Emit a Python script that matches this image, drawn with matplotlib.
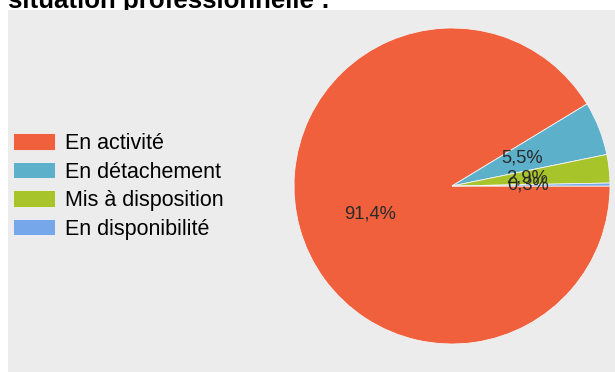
import numpy as np
import matplotlib
matplotlib.use("Agg")
import matplotlib.pyplot as plt
from matplotlib.patches import Rectangle

plt.rcParams['font.family'] = ['Liberation Sans', 'DejaVu Sans']

# Situation professionnelle des agents
categories = ["En activité", "En détachement", "Mis à disposition", "En disponibilité"]
values = [91.4, 5.5, 2.9, 0.3]
colors = ["#f1603c", "#5db0ca", "#a7c52b", "#76a7ea"]

W, H = 615, 372
fig = plt.figure(figsize=(W / 100, H / 100), dpi=100)
fig.patch.set_facecolor("white")

# title (partly cut by the top of the figure and by the panel)
fig.text(8 / W, 1 - 8 / H, "situation professionnelle :", fontsize=18.6,
         fontweight="bold", color="black", ha="left", va="baseline", zorder=-2)

# grey chart panel
fig.patches.append(Rectangle((8 / W, 0), 1 - 8 / W, (H - 10) / H,
                             transform=fig.transFigure, facecolor="#ececec",
                             edgecolor="none", zorder=-1))

# pie axes: centre (452, 186), radius 158 px
cx, cy, r = 452, 186, 158
ax = fig.add_axes([(cx - r) / W, (H - cy - r) / H, 2 * r / W, 2 * r / H])
ax.set_facecolor("none")
wedges, _ = ax.pie(values, colors=colors, startangle=0, counterclock=False,
                   radius=1, wedgeprops=dict(edgecolor="#f4f4f4", linewidth=0.6))
ax.set_xlim(-1, 1)
ax.set_ylim(-1, 1)
ax.set_aspect("equal")
ax.axis("off")

# percentage labels
for w, v in zip(wedges, values):
    mid = np.deg2rad((w.theta1 + w.theta2) / 2)
    if v > 50:
        x, y = 0.54 * np.cos(mid), 0.54 * np.sin(mid) - 0.032
    else:
        x, y = 0.48 * np.cos(mid), 0.48 * np.sin(mid)
    ax.text(x, y, f"{v:.1f}%".replace(".", ","),
            ha="center", va="center", fontsize=13.2, color="#2a2a2a")

# legend
fs = 15.5
fig.legend(wedges, categories, loc="upper left",
           bbox_to_anchor=(13 / W, 1 - 133 / H), frameon=False,
           fontsize=fs, handlelength=1.95, handleheight=0.79,
           handletextpad=0.47, labelspacing=0.35, borderpad=0,
           borderaxespad=0)

fig.savefig("out.png", dpi=100)
